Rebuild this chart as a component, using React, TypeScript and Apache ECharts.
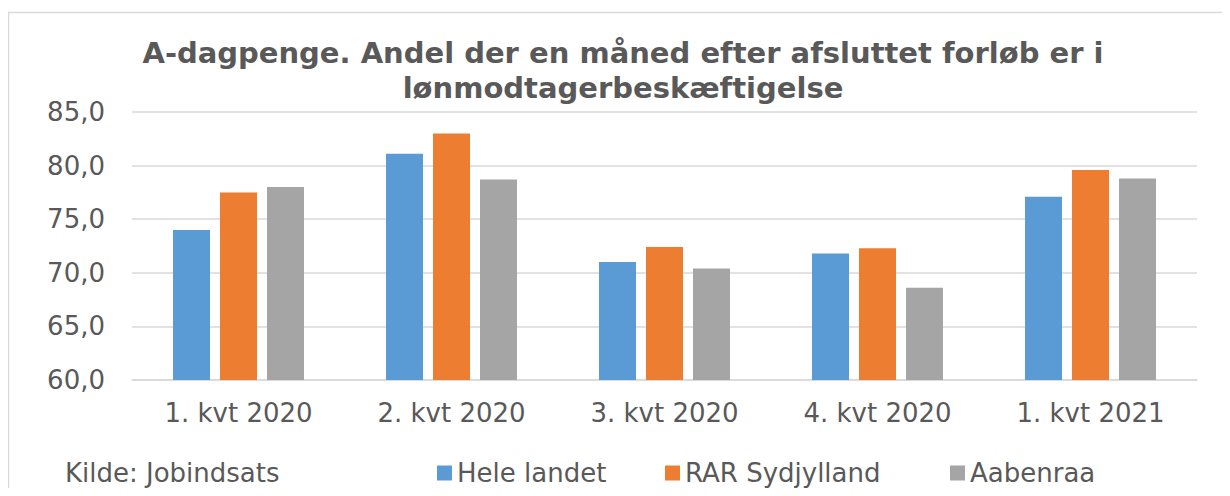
import React, { useEffect, useRef } from "react";
import * as echarts from "echarts";

const categories = ["1. kvt 2020", "2. kvt 2020", "3. kvt 2020", "4. kvt 2020", "1. kvt 2021"];
const seriesNames = ["Hele landet", "RAR Sydjylland", "Aabenraa"];
const heleLandet = [74.0, 81.1, 71.0, 71.8, 77.1];
const rarSydjylland = [77.5, 83.0, 72.4, 72.3, 79.6];
const aabenraa = [78.0, 78.7, 70.4, 68.6, 78.8];
const colors = ["#5B9BD5", "#ED7D31", "#A5A5A5"];
const titleText = "A-dagpenge. Andel der en måned efter afsluttet forløb er i\nlønmodtagerbeskæftigelse";
const sourceText = "Kilde: Jobindsats";

const FONT = 'Verdana, "DejaVu Sans", sans-serif';
const TXT = "#595959";
const legendLefts = [437, 665, 950];

export default function App() {
  const ref = useRef<HTMLDivElement>(null);
  useEffect(() => {
    if (!ref.current) return;
    const chart = echarts.init(ref.current, undefined, { renderer: "svg" });
    const data = [heleLandet, rarSydjylland, aabenraa];
    chart.setOption({
      animation: false,
      backgroundColor: "#ffffff",
      textStyle: { fontFamily: FONT },
      title: {
        text: titleText,
        left: 618,
        top: 30,
        textAlign: "center",
        textStyle: {
          fontFamily: FONT,
          fontSize: 29,
          fontWeight: "bold",
          color: TXT,
          lineHeight: 35,
        },
      },
      legend: seriesNames.map((name, i) => ({
        data: [name],
        left: legendLefts[i],
        top: 460,
        padding: 0,
        itemWidth: 15,
        itemHeight: 15,
        icon: "rect",
        textStyle: { fontFamily: FONT, fontSize: 26, color: TXT },
      })),
      grid: { left: 132, right: 33, top: 112, bottom: 116, containLabel: false },
      xAxis: {
        type: "category",
        data: categories,
        axisLine: { lineStyle: { color: "#d9d9d9", width: 1.5 } },
        axisTick: { show: false },
        axisLabel: { fontFamily: FONT, fontSize: 26, color: TXT, margin: 20 },
      },
      yAxis: {
        type: "value",
        min: 60,
        max: 85,
        interval: 5,
        axisLine: { show: false },
        axisTick: { show: false },
        splitLine: { lineStyle: { color: "#d9d9d9", width: 1.5 } },
        axisLabel: {
          fontFamily: FONT,
          fontSize: 26,
          color: TXT,
          margin: 27,
          formatter: (v: number) => v.toFixed(1).replace(".", ","),
        },
      },
      series: seriesNames.map((name, i) => ({
        name,
        type: "bar",
        data: data[i],
        barWidth: 37,
        barGap: "27%",
        itemStyle: { color: colors[i] },
      })),
      graphic: [
        {
          type: "rect",
          shape: { x: 8.5, y: 12.5, width: 1260, height: 520 },
          style: { fill: "none", stroke: "#d9d9d9", lineWidth: 1.5 },
          silent: true,
        },
        {
          type: "text",
          left: 65,
          top: 460,
          style: { text: sourceText, fontFamily: FONT, fontSize: 26, fill: TXT },
        },
      ],
    });
    return () => chart.dispose();
  }, []);
  return <div ref={ref} style={{ width: 1230, height: 496, margin: -8 }} />;
}
